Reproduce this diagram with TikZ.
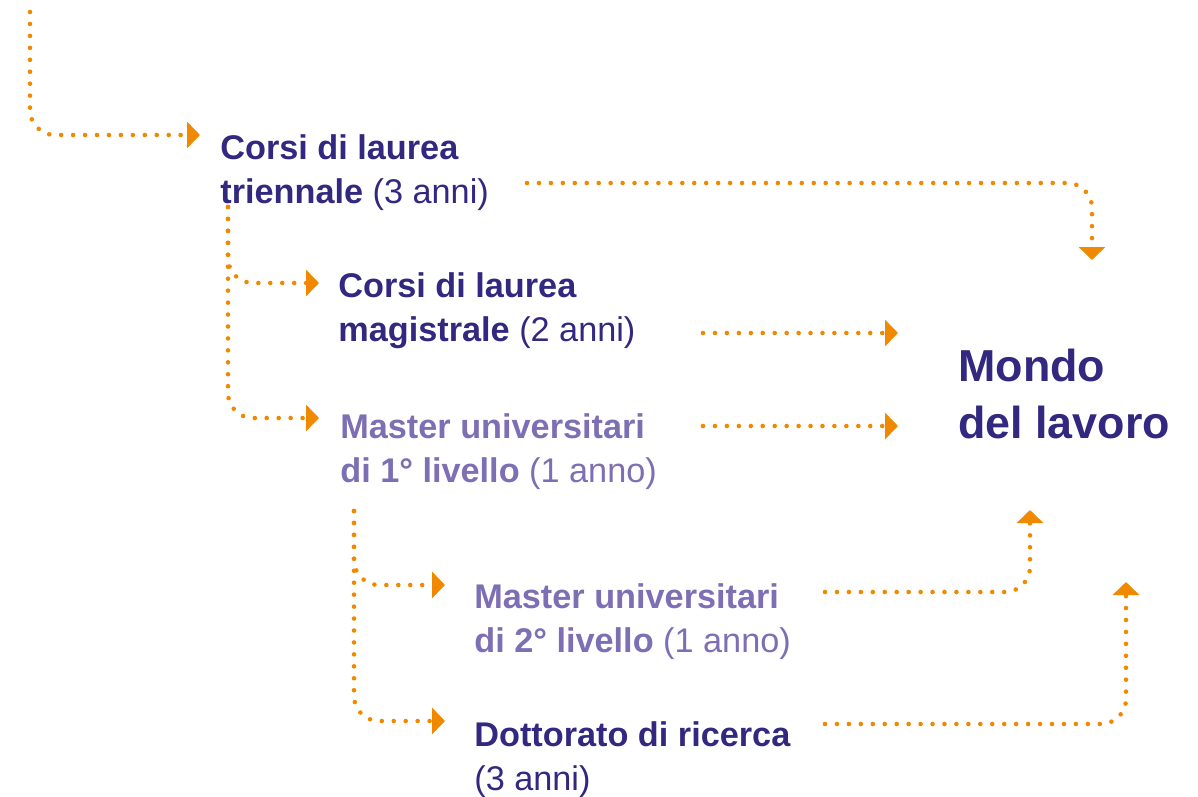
\documentclass[tikz,border=0pt]{standalone}
\usepackage{fontspec}
\setmainfont{Liberation Sans}
\usetikzlibrary{arrows.meta}
\definecolor{D}{RGB}{50,40,128}
\definecolor{P}{RGB}{124,111,180}
\definecolor{O}{RGB}{240,136,0}
\tikzstyle{dots} = [O, line width=2.6pt, line cap=round,
dash pattern=on 0pt off 6.8pt, % round dots
-{Triangle[length=0.26cm,width=0.52cm]},
rounded corners=0.5cm]
\tikzstyle{course} = [inner sep=0pt, anchor=base west, align=left,
font=\fontsize{19.5}{25}\selectfont]

\begin{document}
\begin{tikzpicture}[x=0.02cm, y=-0.02cm]
    \useasboundingbox (0,0) rectangle (1198,796);

    % base = baseline of the last line
    \node[course, D] (tri)  at (220,203) {\textbf{Corsi di laurea}\\\textbf{triennale} (3 anni)};
    \node[course, D] (mag)  at (338,341) {\textbf{Corsi di laurea}\\\textbf{magistrale} (2 anni)};
    \node[course, P] (mas1) at (340,482) {\textbf{Master universitari}\\\textbf{di 1° livello} (1 anno)};
    \node[course, P] (mas2) at (474,652) {\textbf{Master universitari}\\\textbf{di 2° livello} (1 anno)};
    \node[course, D] (dott) at (474,790) {\textbf{Dottorato di ricerca}\\(3 anni)};
    \node[course, D, font=\fontsize{25.5}{32}\selectfont\bfseries] (mondo) at (958,438) {Mondo\\del lavoro};

    % free ends of the connectors
    \coordinate (in)      at (30,12);
    \coordinate (triA)    at (200,135);
    \coordinate (triB)    at (527,183);
    \coordinate (triC)    at (228,207);
    \coordinate (magA)    at (319,283);
    \coordinate (magB)    at (703,333);
    \coordinate (mas1A)   at (319,418);
    \coordinate (mas1B)   at (703,426);
    \coordinate (mas1C)   at (354,511);
    \coordinate (mas2A)   at (445,585);
    \coordinate (mas2B)   at (825,592);
    \coordinate (dottA)   at (445,721);
    \coordinate (dottB)   at (825,724);
    \coordinate (mondoT)  at (1092,260);
    \coordinate (mondoM)  at (898,333);
    \coordinate (mondoN)  at (898,426);
    \coordinate (mondoB)  at (1030,510);
    \coordinate (mondoR)  at (1126,582);

    \draw[dots] (in) |- (triA);
    \draw[dots] (triB) -| (mondoT);
    \draw[dots] (triC) |- (magA);
    \draw[dots] (triC) |- (mas1A);
    \draw[dots] (magB) -- (mondoM);
    \draw[dots] (mas1B) -- (mondoN);
    \draw[dots] (mas1C) |- (mas2A);
    \draw[dots] (mas1C) |- (dottA);
    \draw[dots] (mas2B) -| (mondoB);
    \draw[dots] (dottB) -| (mondoR);
\end{tikzpicture}
\end{document}
